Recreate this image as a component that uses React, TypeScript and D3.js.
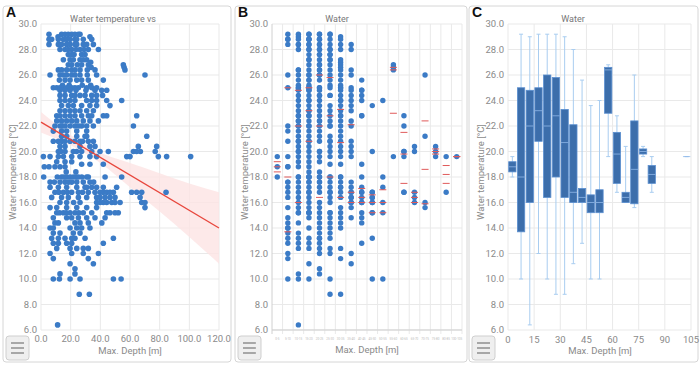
import React from 'react';
import * as d3 from 'd3';

// Panel A scatter: each row is [water temperature, depths of the points at that temperature]
const scatterRows: [number, number[]][] = [
  [29.2, [5.4, 13.9, 16.2, 18.4, 20.7, 22.9, 25.2, 26.3]],
  [29.0, [11.5, 33.0]],
  [28.8, [5.4, 7.2, 11.7, 15.1, 17.3, 19.6, 22.9, 24.1, 28.5, 34.2]],
  [28.4, [5.4, 11.7, 13.9, 17.3, 19.6, 22.9, 24.1, 28.5, 30.8, 35.3]],
  [28.0, [12.8, 16.2, 18.4, 20.7, 23.6, 26.3, 29.0, 31.9, 38.7]],
  [27.6, [18.4, 20.7, 22.3, 27.4, 29.7]],
  [27.2, [15.1, 19.6, 21.8, 26.3, 28.5, 30.8]],
  [27.0, [33.5]],
  [26.8, [18.4, 20.7, 24.5, 27.4, 31.9, 55.5]],
  [26.6, [33.8, 56.0]],
  [26.4, [11.7, 13.9, 17.3, 20.7, 22.9, 26.3, 31.2, 36.4, 56.6]],
  [26.0, [6.1, 12.8, 15.1, 17.3, 20.7, 22.9, 26.3, 31.2, 37.5, 70.1]],
  [25.6, [12.4, 16.2, 19.6, 24.1, 27.4, 31.9, 42.0]],
  [25.2, [14.5, 19.0, 27.8, 33.5]],
  [25.0, [8.3, 10.6, 12.8, 15.1, 17.3, 20.7, 22.9, 25.2, 30.8, 34.2, 37.5]],
  [24.8, [12.8, 16.2, 19.6, 23.6, 30.3, 36.4, 40.9, 44.3]],
  [24.4, [12.8, 16.2, 20.7, 22.9, 26.3, 29.7, 34.2, 37.5, 41.5]],
  [24.0, [12.8, 16.2, 19.6, 22.9, 30.8, 34.2, 37.5, 44.3, 54.4]],
  [23.6, [13.9, 18.4, 21.8, 27.4, 33.0, 37.5, 46.5]],
  [23.2, [12.8, 16.2, 19.6, 22.9, 26.3, 30.8, 35.3]],
  [22.8, [10.6, 12.8, 16.2, 19.6, 22.9, 27.4, 31.9, 34.2, 42.0, 44.3, 64.5]],
  [22.4, [10.6, 13.9, 17.3, 20.7, 24.1, 28.5, 33.0, 38.7]],
  [22.0, [9.4, 12.8, 14.5, 16.2, 19.6, 22.9, 25.5, 27.4, 30.8, 35.3, 62.3]],
  [21.6, [8.3, 13.9, 17.3, 24.1, 30.8]],
  [21.2, [13.9, 17.3, 24.1, 29.7, 30.8, 71.3]],
  [20.8, [8.3, 11.7, 14.0, 16.2, 19.6, 22.9, 26.3, 28.0, 31.9, 35.3]],
  [20.4, [12.8, 16.2, 26.3, 33.0, 36.4, 65.6, 78.0]],
  [20.0, [11.7, 13.5, 16.2, 21.8, 24.0, 27.4, 34.2, 39.8, 45.4, 62.3, 64.5, 67.0, 77.0]],
  [19.6, [1.6, 6.1, 11.7, 15.1, 20.7, 26.3, 33.0, 37.5, 57.8, 60.0, 79.1, 84.7, 100.9]],
  [19.2, [10.6, 16.2, 20.7]],
  [19.0, [27.4, 33.0, 42.0]],
  [18.8, [2.2, 5.4, 9.4, 12.8, 16.2]],
  [18.4, [17.0, 23.5]],
  [18.0, [1.8, 11.0, 13.9, 15.5, 17.3, 19.6, 21.8, 23.5, 25.2, 27.5, 30.8, 31.9, 43.2, 54.4]],
  [17.6, [6.1, 9.0, 12.8, 16.2, 18.5, 20.7, 24.1, 28.5, 33.0, 35.5]],
  [17.2, [6.1, 11.7, 17.3, 24.1, 29.7, 30.8, 34.2, 37.5, 42.0, 51.0]],
  [16.8, [9.4, 12.0, 15.1, 17.8, 20.7, 25.2, 28.0, 31.9, 36.4, 39.8, 42.0, 44.3, 46.5, 48.8, 61.1, 64.5, 67.9, 84.3]],
  [16.4, [7.2, 13.9, 18.4, 25.2, 30.8, 37.5, 39.8, 43.2, 46.5, 49.9, 66.8]],
  [16.0, [12.8, 17.3, 22.0, 26.3, 37.5, 39.8, 42.0, 44.3, 47.7, 49.9, 53.3, 67.9, 70.1]],
  [15.6, [6.1, 10.6, 17.3, 24.1, 30.8, 37.5, 70.1]],
  [15.2, [10.6, 12.5, 15.1, 17.0, 19.6, 22.9, 25.5, 28.5, 34.2, 44.3, 46.5, 49.9, 52.1]],
  [14.8, [8.3, 17.3, 20.7, 25.2, 30.8, 36.4, 43.2]],
  [14.4, [9.4, 11.7, 22.9, 26.3, 31.9, 41.0]],
  [14.0, [6.1, 8.3, 19.6, 24.1, 27.4, 33.0]],
  [13.6, [8.3, 12.8, 21.8, 26.3]],
  [13.2, [7.2, 11.7, 16.2, 20.7, 22.9, 29.7, 48.8]],
  [12.8, [8.3, 11.7, 17.3, 20.7, 42.0]],
  [12.4, [10.6, 19.6, 24.1, 28.5, 31.9]],
  [12.0, [6.1, 20.7, 28.5, 38.7]],
  [11.6, [8.3, 31.9]],
  [11.2, [19.6, 35.3]],
  [10.8, [22.9]],
  [10.4, [12.8, 22.9]],
  [10.0, [8.3, 12.4, 19.6, 26.3, 48.8, 54.0]],
  [8.8, [25.8, 32.6]],
  [6.4, [11.2]],
];

// regression line and its confidence band
const fitDepth = [0, 120];
const fitTemp = [22.3, 14.0];
const bandDepth = [0, 20, 40, 60, 80, 100, 120];
const bandLow = [21.5, 20.5, 19.1, 17.2, 15.3, 13.3, 11.2];
const bandHigh = [23.1, 21.3, 19.9, 19.1, 18.3, 17.5, 16.8];

// depth bins (start of each 5 m bin) used in panels B and C
const binStarts = [0, 5, 10, 15, 20, 25, 30, 35, 40, 45, 50, 55, 60, 65, 70, 75, 80, 100];
const boxMin = [18.0, 10.0, 6.4, 12.0, 10.0, 8.8, 8.8, 11.2, 12.8, 10.0, 10.0, 19.6, 16.8, 16.0, 15.6, 19.6, 16.8, 19.6];
const boxQ1 = [18.4, 13.7, 16.0, 20.8, 16.4, 18.0, 16.4, 16.0, 16.0, 15.2, 15.2, 23.0, 17.5, 16.0, 15.9, 19.8, 17.5, 19.6];
const boxMedian = [18.8, 18.0, 22.0, 23.2, 22.0, 22.8, 20.7, 16.8, 16.4, 16.0, 16.0, 26.4, 19.8, 16.4, 18.6, 20.0, 18.2, 19.6];
const boxQ3 = [19.2, 25.0, 24.8, 25.0, 26.0, 25.8, 23.3, 22.1, 17.1, 16.6, 17.0, 26.6, 21.5, 16.8, 22.4, 20.2, 18.9, 19.6];
const boxMax = [19.6, 29.2, 29.0, 29.2, 29.2, 29.2, 29.0, 28.0, 25.6, 23.6, 24.0, 26.8, 22.8, 20.4, 26.0, 20.4, 19.6, 19.6];

const tempTicks = [6, 8, 10, 12, 14, 16, 18, 20, 22, 24, 26, 28, 30];
const depthTicksA = [0, 20, 40, 60, 80, 100, 120];
const depthTicksC = [0, 15, 30, 45, 60, 75, 90, 105];

const points = scatterRows.flatMap(([t, ds]) => ds.map(d => ({ depth: d, temp: t })));

const TOP = 24;
const BOTTOM = 330;
const FONT = 'Roboto, "Noto Sans", sans-serif';
const TICK = '#8a8a8a';
const GRID = '#e9e9e9';
const DOT = '#3b7bc6';

const yScale = d3.scaleLinear().domain([6, 30]).range([BOTTOM, TOP]);

const Card = ({ x, w, letter, title, titleX, yLabelX }: any) => (
  <g>
    <rect x={x} y={6} width={w} height={356} rx={3} fill="#fff" stroke="#d6d6d6" />
    <text x={x + 3} y={17} fontFamily='"Liberation Sans", Arial, sans-serif' fontWeight="bold" fontSize={14} fill="#111">{letter}</text>
    <text x={titleX} y={22} textAnchor="middle" fontFamily={FONT} fontSize={9} fill="#777">{title}</text>
    <text transform={`translate(${yLabelX},172) rotate(-90)`} textAnchor="middle" fontFamily={FONT} fontSize={9.5} fill="#8a8a8a">Water temperature [°C]</text>
    <rect x={x + 3} y={336} width={23} height={24} rx={3} fill="#efefef" stroke="#cfcfcf" />
    {[343, 348, 353].map(yy => (
      <line key={yy} x1={x + 8} x2={x + 21} y1={yy} y2={yy} stroke="#777" strokeWidth={1.2} />
    ))}
  </g>
);

const YAxis = ({ left, right }: { left: number; right: number }) => (
  <g fontFamily={FONT} fontSize={9.5} fill={TICK}>
    {tempTicks.map(t => (
      <g key={t}>
        <line x1={left} x2={right} y1={yScale(t)} y2={yScale(t)} stroke={GRID} />
        <text x={left - 4} y={yScale(t) + 3.3} textAnchor="end">{t.toFixed(1)}</text>
      </g>
    ))}
  </g>
);

const PanelA = () => {
  const x = d3.scaleLinear().domain([0, 120]).range([41, 219]);
  const band = d3.area<number>()
    .x((_, i) => x(bandDepth[i]))
    .y0((_, i) => yScale(bandLow[i]))
    .y1((_, i) => yScale(bandHigh[i]))
    .curve(d3.curveMonotoneX);
  return (
    <g>
      <Card x={3} w={228} letter="A" title="Water temperature vs" titleX={113} yLabelX={16} />
      <YAxis left={41} right={219} />
      {depthTicksA.map(d => (
        <g key={d}>
          <line x1={x(d)} x2={x(d)} y1={TOP} y2={BOTTOM} stroke={GRID} />
          <text x={x(d)} y={342} textAnchor="middle" fontFamily={FONT} fontSize={9.5} fill={TICK}>{d.toFixed(1)}</text>
        </g>
      ))}
      <text x={130} y={354} textAnchor="middle" fontFamily={FONT} fontSize={9.5} fill={TICK}>Max. Depth [m]</text>
      <path d={band(bandDepth) || ''} fill="#fde4e4" opacity={0.8} />
      {points.map((p, i) => (
        <circle key={i} cx={x(p.depth)} cy={yScale(p.temp)} r={2.8} fill={DOT} />
      ))}
      <line x1={x(fitDepth[0])} y1={yScale(fitTemp[0])} x2={x(fitDepth[1])} y2={yScale(fitTemp[1])} stroke="#e8463c" strokeWidth={1.3} />
    </g>
  );
};

const PanelB = () => {
  const x = d3.scaleBand<number>().domain(binStarts).range([272, 462]);
  const bw = x.bandwidth();
  const binOf = (d: number) => Math.floor(d / 5) * 5;
  return (
    <g>
      <Card x={235} w={232} letter="B" title="Water" titleX={337} yLabelX={248} />
      <YAxis left={272} right={462} />
      {binStarts.map((b, i) => (
        <g key={b}>
          <line x1={x(b)!} x2={x(b)!} y1={TOP} y2={BOTTOM + 4} stroke={i === 0 ? '#d0d0d0' : GRID} />
          <text x={x(b)! + bw / 2} y={340} textAnchor="middle" fontFamily={FONT} fontSize={3} fill="#bbb">{b}-{b + 5}</text>
        </g>
      ))}
      <line x1={462} x2={462} y1={TOP} y2={BOTTOM + 4} stroke={GRID} />
      <line x1={272} x2={462} y1={BOTTOM} y2={BOTTOM} stroke="#cfcfcf" />
      <text x={367} y={353} textAnchor="middle" fontFamily={FONT} fontSize={9.5} fill={TICK}>Max. Depth [m]</text>
      {points.map((p, i) => {
        const cx = x(binOf(p.depth));
        if (cx === undefined) return null;
        return <circle key={i} cx={cx + bw / 2} cy={yScale(p.temp)} r={2.7} fill={DOT} />;
      })}
      {binStarts.map((b, i) => (
        <g key={b} stroke="#e05a5a" strokeWidth={1}>
          {[boxQ1[i], boxMedian[i], boxQ3[i]].map((v, k) => (
            <line key={k} x1={x(b)! + bw / 2 - 3.5} x2={x(b)! + bw / 2 + 3.5} y1={yScale(v)} y2={yScale(v)} />
          ))}
        </g>
      ))}
    </g>
  );
};

const PanelC = () => {
  const x = d3.scaleLinear().domain([0, 105]).range([508, 691]);
  const half = 2.1;
  return (
    <g>
      <Card x={469} w={229} letter="C" title="Water" titleX={573} yLabelX={484} />
      <YAxis left={508} right={691} />
      {depthTicksC.map(d => (
        <g key={d}>
          <line x1={x(d)} x2={x(d)} y1={TOP} y2={BOTTOM} stroke={GRID} />
          <text x={x(d)} y={343} textAnchor="middle" fontFamily={FONT} fontSize={9.5} fill={TICK}>{d}</text>
        </g>
      ))}
      <text x={600} y={354} textAnchor="middle" fontFamily={FONT} fontSize={9.5} fill={TICK}>Max. Depth [m]</text>
      {binStarts.map((b, i) => {
        const c = x(b + 2.5);
        const l = x(b + 2.5 - half);
        const r = x(b + 2.5 + half);
        return (
          <g key={b}>
            <line x1={c} x2={c} y1={yScale(boxMax[i])} y2={yScale(boxMin[i])} stroke="#a9cdf0" />
            <line x1={c - 2} x2={c + 2} y1={yScale(boxMax[i])} y2={yScale(boxMax[i])} stroke="#a9cdf0" />
            <line x1={c - 2} x2={c + 2} y1={yScale(boxMin[i])} y2={yScale(boxMin[i])} stroke="#a9cdf0" />
            <rect x={l} width={r - l} y={yScale(boxQ3[i])} height={yScale(boxQ1[i]) - yScale(boxQ3[i])} fill="#3c6eab" stroke="#5b8fd0" strokeWidth={0.8} />
            <line x1={l} x2={r} y1={yScale(boxMedian[i])} y2={yScale(boxMedian[i])} stroke="#8fb8e8" strokeWidth={0.8} />
          </g>
        );
      })}
    </g>
  );
};

export default function App() {
  return (
    <div style={{ position: 'absolute', left: 0, top: 0 }}>
      <svg width={700} height={366} style={{ display: 'block', background: '#fff' }}>
        <PanelA />
        <PanelB />
        <PanelC />
      </svg>
    </div>
  );
}
